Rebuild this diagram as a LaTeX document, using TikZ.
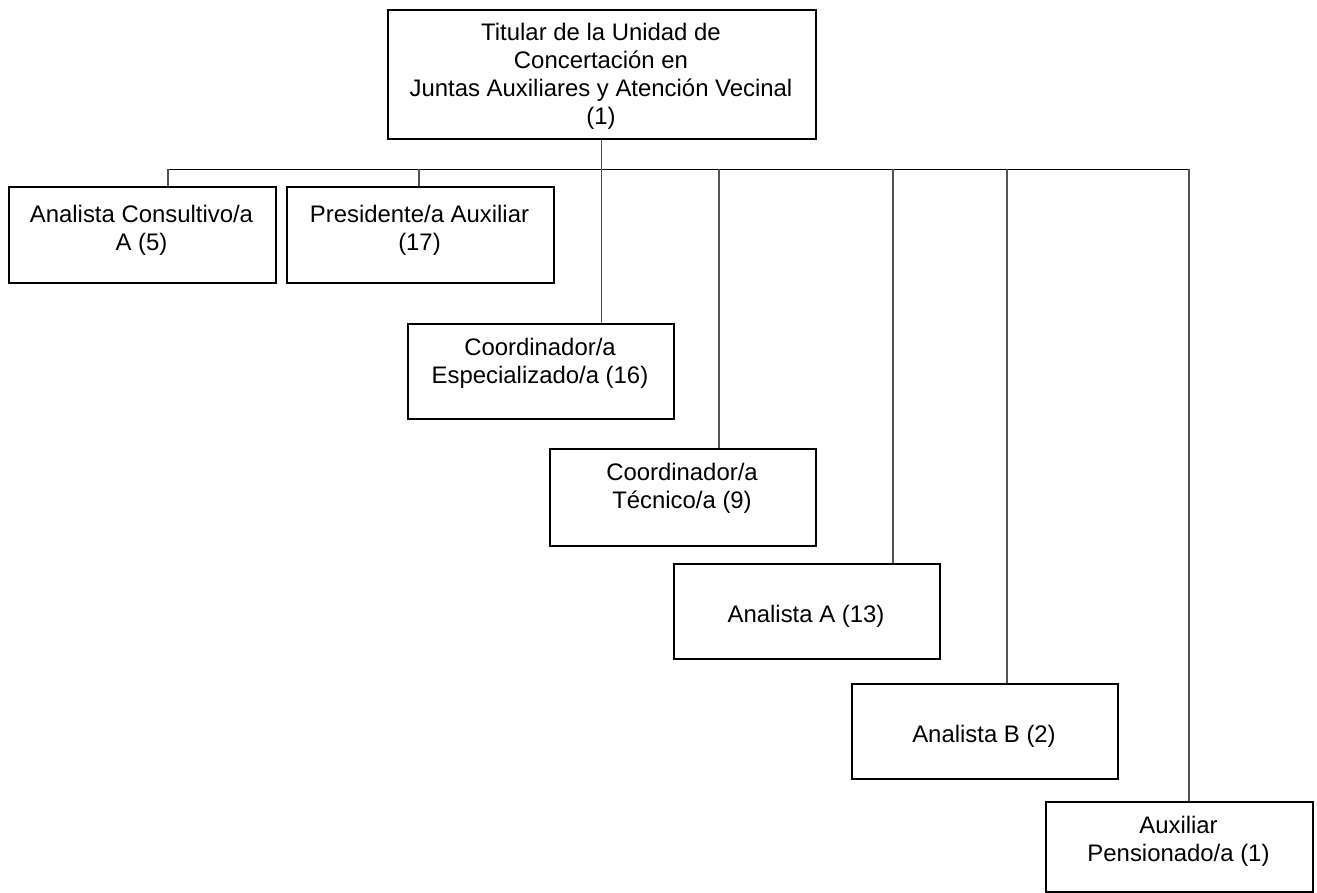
\documentclass[tikz,border=0pt]{standalone}
\usepackage{fontspec}
\setmainfont{Liberation Sans}
\tikzset{
  box/.style={draw=black, line width=1.5pt, rectangle, anchor=north west, inner sep=0pt},
  txt/.style={anchor=base, align=center, inner sep=0pt, font=\fontsize{23.9}{28}\selectfont},
  conn/.style={draw=black!68, line width=1.3pt},
  hconn/.style={draw=black, line width=1pt}
}
\begin{document}
\begin{tikzpicture}[x=1pt, y=-1pt]
\useasboundingbox (0,0) rectangle (1317,892);
% boxes
\node[box, minimum width=428pt, minimum height=129pt] (top) at (387,9) {};
\node[box, minimum width=267pt, minimum height=96pt] (b1) at (8,186) {};
\node[box, minimum width=267pt, minimum height=96pt] (b2) at (286,186) {};
\node[box, minimum width=266pt, minimum height=95pt] (b3) at (407,323) {};
\node[box, minimum width=266pt, minimum height=97pt] (b4) at (549,448) {};
\node[box, minimum width=266pt, minimum height=95pt] (b5) at (673,563) {};
\node[box, minimum width=266pt, minimum height=95pt] (b6) at (851,683) {};
\node[box, minimum width=267pt, minimum height=90pt] (b7) at (1045,801) {};
% texts (anchor base = baseline of last line)
\node[txt] (ttop) at (601,124) {Titular de la Unidad de\\Concertación en\\Juntas Auxiliares y Atención Vecinal\\(1)};
\node[txt] (t1) at (141.5,250) {Analista Consultivo/a\\A (5)};
\node[txt] (t2) at (419.5,250) {Presidente/a Auxiliar\\(17)};
\node[txt] (t3) at (540,383) {Coordinador/a\\Especializado/a (16)};
\node[txt] (t4) at (682,508) {Coordinador/a\\Técnico/a (9)};
\node[txt] (t5) at (806,622) {Analista A (13)};
\node[txt] (t6) at (984,742) {Analista B (2)};
\node[txt] (t7) at (1178.5,861) {Auxiliar\\Pensionado/a (1)};
% junctions
\coordinate (j1) at (168,169);
\coordinate (j2) at (419,169);
\coordinate (j4) at (719,169);
\coordinate (j5) at (893,169);
\coordinate (j6) at (1007,169);
\coordinate (j7) at (1189,169);
% connectors
\draw[hconn] (j1) -- (j7);
\draw[conn] (top.south) -- (top.south |- b3.north);
\draw[conn] (j1) -- (j1 |- b1.north);
\draw[conn] (j2) -- (j2 |- b2.north);
\draw[conn] (j4) -- (j4 |- b4.north);
\draw[conn] (j5) -- (j5 |- b5.north);
\draw[conn] (j6) -- (j6 |- b6.north);
\draw[conn] (j7) -- (j7 |- b7.north);
\end{tikzpicture}
\end{document}
